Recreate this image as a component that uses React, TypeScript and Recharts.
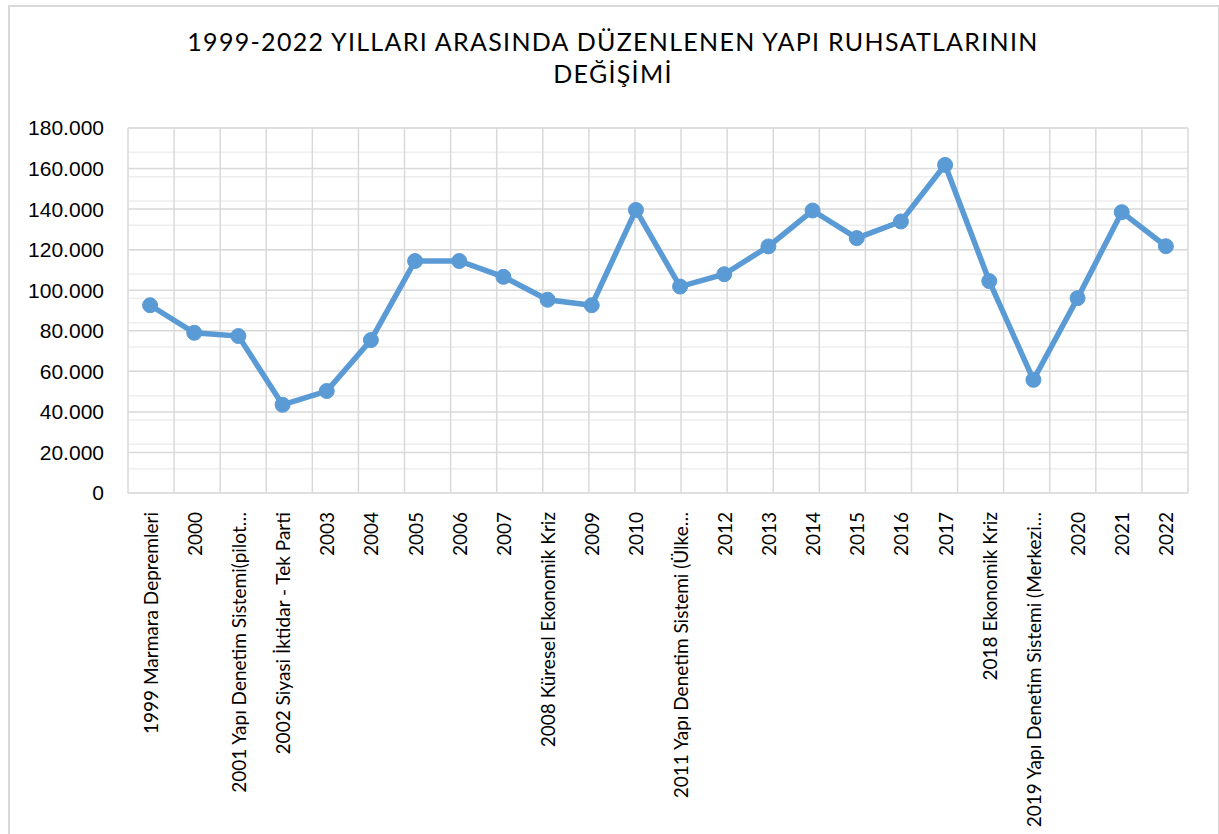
import { ComposedChart, Line, XAxis, YAxis, CartesianGrid } from 'recharts';

const categories = [
    '1999 Marmara Depremleri',
    '2000',
    '2001 Yapı Denetim Sistemi(pilot…',
    '2002 Siyasi İktidar - Tek Parti',
    '2003',
    '2004',
    '2005',
    '2006',
    '2007',
    '2008 Küresel Ekonomik Kriz',
    '2009',
    '2010',
    '2011 Yapı Denetim Sistemi (Ülke…',
    '2012',
    '2013',
    '2014',
    '2015',
    '2016',
    '2017',
    '2018 Ekonomik Kriz',
    '2019 Yapı Denetim Sistemi (Merkezi…',
    '2020',
    '2021',
    '2022',
];

const permits = [
    92600, 79000, 77400, 43500, 50300, 75400, 114400, 114400, 106600, 95300, 92600, 139600,
    101800, 107900, 121600, 139300, 125700, 133900, 161800, 104500, 55800, 96100, 138500, 121700,
];

const yTicks = [0, 20000, 40000, 60000, 80000, 100000, 120000, 140000, 160000, 180000];
const minorTicks = Array.from({ length: 46 }, (_, i) => i * 4000);
const bandTicks = Array.from({ length: categories.length + 1 }, (_, i) => i);

const data = categories.map((label, i) => ({ label, value: permits[i] }));

const fmt = (v: number) => String(v).replace(/\B(?=(\d{3})+(?!\d))/g, '.');

const CategoryTick = ({ x, y, payload }: any) => (
    <text
        transform={`translate(${x},${y + 11}) rotate(-90)`}
        textAnchor="end"
        dominantBaseline="central"
        fontFamily="Lato, 'Open Sans', sans-serif"
        fontSize={19}
        fill="#000"
    >
        {payload.value}
    </text>
);

export default function App() {
    return (
        <div style={{ position: 'absolute', left: 0, top: 0, width: 1219, height: 834, background: '#fff' }}>
            <div
                style={{
                    position: 'absolute',
                    left: 8,
                    top: 5,
                    width: 1208,
                    height: 828,
                    borderTop: '2px solid #d9d9d9',
                    borderLeft: '2px solid #d9d9d9',
                    borderRight: '2px solid #d9d9d9',
                }}
            />
            <div
                style={{
                    position: 'absolute',
                    left: 8,
                    top: 25,
                    width: 1210,
                    textAlign: 'center',
                    fontFamily: 'Lato, sans-serif',
                    fontSize: 25,
                    letterSpacing: 1.3,
                    lineHeight: '32px',
                    color: '#000',
                }}
            >
                1999-2022 YILLARI ARASINDA DÜZENLENEN YAPI RUHSATLARININ
                <br />
                DEĞİŞİMİ
            </div>
            <div style={{ position: 'absolute', left: 0, top: 0 }}>
                <ComposedChart
                    width={1219}
                    height={834}
                    data={data}
                    margin={{ top: 128, right: 31, left: 0, bottom: 0 }}
                >
                    <XAxis xAxisId="grid" type="number" domain={[0, categories.length]} ticks={bandTicks} hide />
                    <CartesianGrid
                        xAxisId="grid"
                        vertical={false}
                        horizontalValues={minorTicks}
                        stroke="#eeeeee"
                        strokeWidth={1.5}
                    />
                    <CartesianGrid xAxisId="grid" stroke="#d9d9d9" strokeWidth={1.5} />
                    <XAxis
                        dataKey="label"
                        scale="band"
                        interval={0}
                        height={341}
                        tickLine={false}
                        axisLine={false}
                        tick={<CategoryTick />}
                    />
                    <YAxis
                        width={128}
                        domain={[0, 180000]}
                        ticks={yTicks}
                        tickFormatter={fmt}
                        tickLine={false}
                        axisLine={false}
                        tickSize={0}
                        tickMargin={24}
                        tick={{ fill: '#000', fontSize: 21, fontFamily: "'Liberation Sans', Arial, sans-serif" }}
                    />
                    <Line
                        dataKey="value"
                        stroke="#5b9bd5"
                        strokeWidth={5.5}
                        dot={{ r: 7.5, fill: '#5b9bd5', stroke: '#5b9bd5', strokeWidth: 1 }}
                        isAnimationActive={false}
                    />
                </ComposedChart>
            </div>
        </div>
    );
}
